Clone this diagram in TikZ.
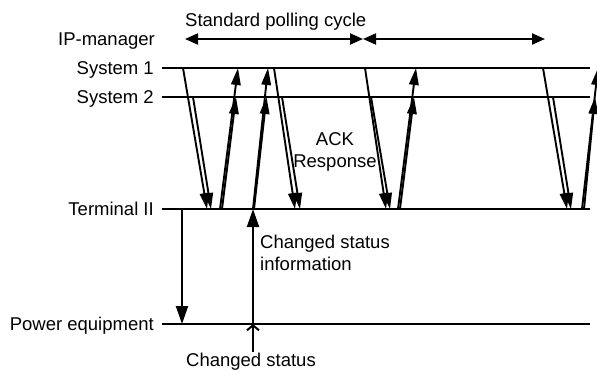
\documentclass[tikz,border=0pt]{standalone}
\usepackage{fontspec}
\setmainfont{Liberation Sans}
\usetikzlibrary{arrows.meta}
\begin{document}
\begin{tikzpicture}[x=1pt,y=-1pt,
  lbl/.style={font=\fontsize{18.5}{22.5}\selectfont, inner sep=0pt},
  tline/.style={line width=2pt},
  dnarrow/.style={line width=1.9pt, -{Triangle[length=16pt,width=9pt]}},
  uparrow/.style={line width=1.9pt, -{Triangle[length=17pt,width=9.5pt]}},
  cycarrow/.style={line width=2pt, {Triangle[length=13pt,width=11pt]}-{Triangle[length=13pt,width=11pt]}},
  vertarrow/.style={line width=2pt, -{Triangle[length=18pt,width=12pt]}},
  openarrow/.style={line width=2pt, -{Straight Barb[length=5pt,width=12pt]}}]
\useasboundingbox (0,0) rectangle (597,372);

% labels
\node[lbl, anchor=base west] (cyc) at (185,27) {Standard polling cycle};
\node[lbl, anchor=base east] (ipm) at (155,45.5) {IP-manager};
\node[lbl, anchor=base east] (sys1) at (154,74.7) {System 1};
\node[lbl, anchor=base east] (sys2) at (154,103.7) {System 2};
\node[lbl, anchor=base east] (term) at (154,215.7) {Terminal II};
\node[lbl, anchor=base east] (pow) at (154,330.7) {Power equipment};
\node[lbl, anchor=north, align=center] (ack) at (335,132) {ACK\\Response};
\node[lbl, anchor=north west, align=left] (csi) at (260,234.5) {Changed status\\information};
\node[lbl, anchor=base west] (cs) at (186,366) {Changed status};

% horizontal lines
\coordinate (s1a) at (162,68);  \coordinate (s1b) at (590,68);
\coordinate (s2a) at (162,97);  \coordinate (s2b) at (590,97);
\coordinate (ta)  at (162,209); \coordinate (tb)  at (590,209);
\coordinate (pa)  at (162,324); \coordinate (pb)  at (590,324);
\draw[tline] (s1a) -- (s1b);
\draw[tline] (s2a) -- (s2b);
\draw[tline] (ta) -- (tb);
\draw[tline] (pa) -- (pb);

% polling cycle arrows
\coordinate (c0) at (185,39); \coordinate (c1) at (363,39); \coordinate (c2) at (545,39);
\draw[cycarrow] (c0) -- (c1);
\draw[cycarrow] (c1) -- (c2);

% down pairs (System 1 / System 2 -> Terminal II)
\coordinate (d1a) at (183,68);  \coordinate (d1b) at (207,209);
\coordinate (d1c) at (193,97);  \coordinate (d1d) at (211,209);
\coordinate (d2a) at (274,68);  \coordinate (d2b) at (295,209);
\coordinate (d2c) at (282,97);  \coordinate (d2d) at (300,209);
\coordinate (d3a) at (365,68);  \coordinate (d3b) at (386,209);
\coordinate (d3c) at (371,97);  \coordinate (d3d) at (390,209);
\coordinate (d4a) at (543,68);  \coordinate (d4b) at (567,209);
\coordinate (d4c) at (553,97);  \coordinate (d4d) at (571,209);
\foreach \i in {1,2,3,4}{
  \draw[dnarrow] (d\i a) -- (d\i b);
  \draw[dnarrow] (d\i c) -- (d\i d);
}

% up pairs (Terminal II -> System 1 / System 2)
\coordinate (u1a) at (220,209); \coordinate (u1b) at (238,68);
\coordinate (u1c) at (222,209); \coordinate (u1d) at (236,97);
\coordinate (u2a) at (253,209); \coordinate (u2b) at (268,68);
\coordinate (u2c) at (254,209); \coordinate (u2d) at (266.5,97);
\coordinate (u3a) at (398,209); \coordinate (u3b) at (416,68);
\coordinate (u3c) at (400,209); \coordinate (u3d) at (414,97);
\coordinate (u4a) at (582,209); \coordinate (u4b) at (598,68);
\coordinate (u4c) at (584,209); \coordinate (u4d) at (595,97);
\foreach \i in {1,2,3,4}{
  \draw[uparrow] (u\i a) -- (u\i b);
  \draw[uparrow] (u\i c) -- (u\i d);
}

% vertical arrows
\coordinate (v1a) at (182,209); \coordinate (v1b) at (182,324);
\draw[vertarrow] (v1a) -- (v1b);
\coordinate (v2a) at (253,352); \coordinate (v2b) at (253,324); \coordinate (v2c) at (253,209);
\draw[openarrow] (v2a) -- (v2b);
\draw[vertarrow] (v2b) -- (v2c);
\end{tikzpicture}
\end{document}
